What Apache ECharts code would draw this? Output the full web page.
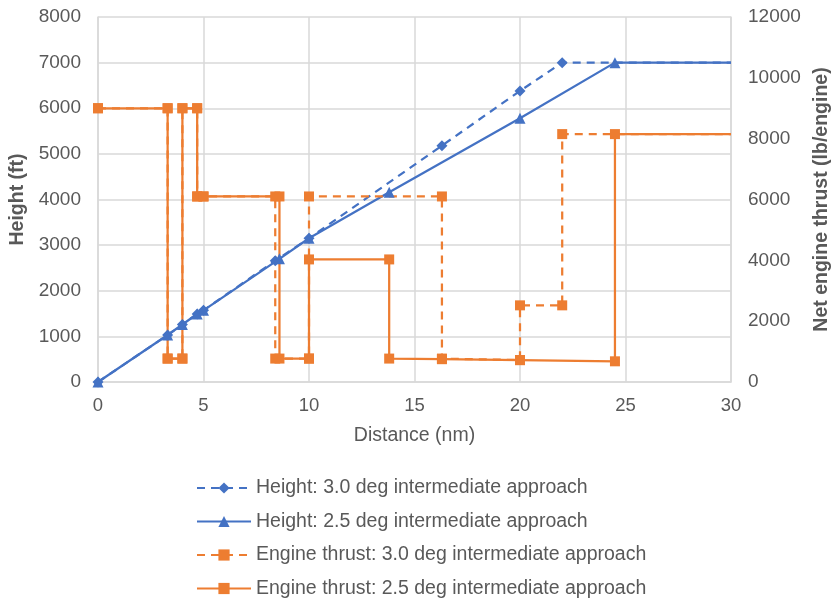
<!DOCTYPE html>
<html>
<head>
<meta charset="utf-8">
<script src="https://cdn.jsdelivr.net/npm/echarts@6/dist/echarts.min.js"></script>
<style>html,body{margin:0;padding:0;background:#fff}#c{width:835px;height:604px}</style>
</head>
<body>
<div id="c"></div>
<script>
// ---- data ----
const heightX30 = [0, 3.3, 4.0, 4.7, 5.0, 8.4, 10, 16.3, 20, 22, 30];
const heightY30 = [0, 1030, 1260, 1490, 1570, 2660, 3150, 5180, 6380, 7000, 7000];
const heightX25 = [0, 3.3, 4.0, 4.7, 5.0, 8.6, 10, 13.8, 20, 24.5, 30];
const heightY25 = [0, 1030, 1260, 1490, 1570, 2700, 3150, 4160, 5780, 7000, 7000];
const thrustX30 = [0, 3.3, 3.3, 4.0, 4.0, 4.7, 4.7, 5.0, 8.4, 8.4, 10, 10, 16.3, 16.3, 20, 20, 22, 22, 30];
const thrustY30 = [9000, 9000, 770, 770, 9000, 9000, 6100, 6100, 6100, 770, 770, 6100, 6100, 770, 720, 2520, 2520, 8150, 8150];
const thrustX25 = [0, 3.3, 3.3, 4.0, 4.0, 4.7, 4.7, 5.0, 8.6, 8.6, 10, 10, 13.8, 13.8, 16.3, 20, 24.5, 24.5, 30];
const thrustY25 = [9000, 9000, 770, 770, 9000, 9000, 6100, 6100, 6100, 770, 770, 4030, 4030, 770, 750, 720, 680, 8150, 8150];
const seriesNames = [
  'Height: 3.0 deg intermediate approach',
  'Height: 2.5 deg intermediate approach',
  'Engine thrust: 3.0 deg intermediate approach',
  'Engine thrust: 2.5 deg intermediate approach'
];
const xTicks = [0, 5, 10, 15, 20, 25, 30];

// ---- build ----
const BLUE = '#4472C4', ORANGE = '#ED7D31', TXT = '#595959', GRID = '#D9D9D9';
const FONT = '"Liberation Sans", Arial, sans-serif';
function pts(xs, ys) {
  return xs.map((x, i) => i === xs.length - 1 ? { value: [x, ys[i]], symbol: 'none' } : [x, ys[i]]);
}
function mk(name, xs, ys, color, dashed, symbol, size, yAxis) {
  return {
    name, type: 'line', yAxisIndex: yAxis, data: pts(xs, ys),
    symbol, symbolSize: size, showSymbol: true,
    lineStyle: { color, width: 2.25, type: dashed ? [8, 6] : 'solid' },
    itemStyle: { color, borderWidth: 0 },
    emphasis: { disabled: true }, animation: false, z: 2
  };
}
const chart = echarts.init(document.getElementById('c'), null, { renderer: 'canvas' });
chart.setOption({
  animation: false,
  textStyle: { fontFamily: FONT },
  grid: { left: 98, right: 104, top: 17, bottom: 222, containLabel: false, outerBoundsMode: 'none' },
  xAxis: {
    type: 'value', min: 0, max: 30, interval: 5,
    name: 'Distance (nm)', nameLocation: 'middle', nameGap: 44,
    nameTextStyle: { color: TXT, fontSize: 19.5, fontFamily: FONT },
    axisLine: { show: true, lineStyle: { color: GRID, width: 1.5 } },
    axisTick: { show: false },
    axisLabel: { color: TXT, fontSize: 18.5, fontFamily: FONT, margin: 14,
      formatter: v => xTicks.includes(v) ? String(v) : '' },
    splitLine: { show: true, lineStyle: { color: GRID, width: 1.5 } }
  },
  yAxis: [{
    type: 'value', min: 0, max: 8000, interval: 1000,
    name: 'Height (ft)', nameLocation: 'middle', nameGap: 64, nameRotate: 90,
    nameTextStyle: { color: TXT, fontSize: 19.5, fontWeight: 'bold', fontFamily: FONT },
    axisLine: { show: true, lineStyle: { color: GRID, width: 1.5 } },
    axisTick: { show: false },
    axisLabel: { color: TXT, fontSize: 19, fontFamily: FONT, margin: 17, formatter: v => String(v) },
    splitLine: { show: true, lineStyle: { color: GRID, width: 1.5 } }
  }, {
    type: 'value', min: 0, max: 12000, interval: 2000, position: 'right',
    name: 'Net engine thrust (lb/engine)', nameLocation: 'middle', nameGap: 78, nameRotate: 90,
    nameTextStyle: { color: TXT, fontSize: 19.5, fontWeight: 'bold', fontFamily: FONT },
    axisLine: { show: true, lineStyle: { color: GRID, width: 1.5 } },
    axisTick: { show: false },
    axisLabel: { color: TXT, fontSize: 19, fontFamily: FONT, margin: 17, formatter: v => String(v) },
    splitLine: { show: false }
  }],
  legend: {
    orient: 'vertical', left: 196, top: 478, height: 126, itemGap: 13.5, padding: 0,
    itemWidth: 54, itemHeight: 14,
    textStyle: { color: TXT, fontSize: 19.5, fontFamily: FONT, padding: 0 },
    data: seriesNames
  },
  series: [
    mk(seriesNames[0], heightX30, heightY30, BLUE, true, 'diamond', 11, 0),
    mk(seriesNames[1], heightX25, heightY25, BLUE, false, 'triangle', 11, 0),
    mk(seriesNames[2], thrustX30, thrustY30, ORANGE, true, 'rect', 10, 1),
    mk(seriesNames[3], thrustX25, thrustY25, ORANGE, false, 'rect', 10, 1)
  ]
});
</script>
</body>
</html>
